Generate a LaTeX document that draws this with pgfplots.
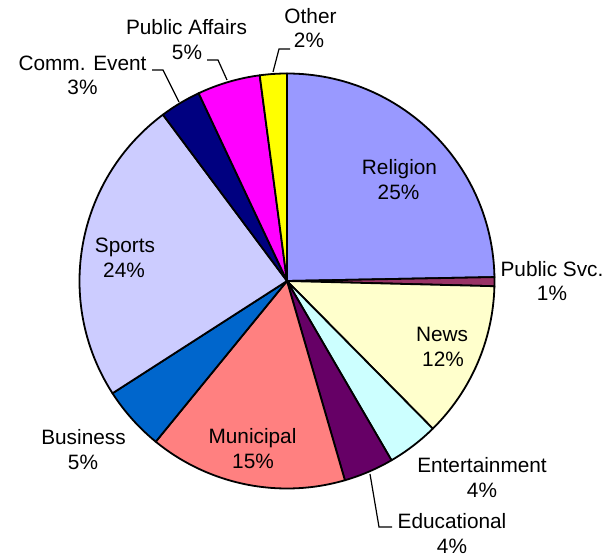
\documentclass[border=0pt]{standalone}
\usepackage{pgfplots}
\pgfplotsset{compat=1.18}
\usepackage{fontspec}
\setmainfont{Liberation Sans}
\definecolor{religion}{HTML}{9999FF}
\definecolor{pubsvc}{HTML}{993366}
\definecolor{news}{HTML}{FFFFCC}
\definecolor{entert}{HTML}{CCFFFF}
\definecolor{educ}{HTML}{660066}
\definecolor{munic}{HTML}{FF8080}
\definecolor{business}{HTML}{0066CC}
\definecolor{sports}{HTML}{CCCCFF}
\definecolor{comm}{HTML}{000080}
\definecolor{pubaff}{HTML}{FF00FF}
\definecolor{other}{HTML}{FFFF00}
\begin{document}
\begin{tikzpicture}
\fontsize{20.8}{25}\selectfont
\begin{axis}[hide axis, scale only axis, width=609pt, height=557pt,
  xmin=0, xmax=609, ymin=0, ymax=557, enlargelimits=false, clip=false]
\path (axis cs:0,0) rectangle (axis cs:609,557);
% slices: percentage / colour, clockwise from 12 o'clock
\foreach \v/\c [remember=\b as \a (initially 90)] in
  {24.7/religion, 0.7/pubsvc, 12.2/news, 4.0/entert, 3.9/educ, 15.4/munic,
   5.0/business, 23.9/sports, 3.2/comm, 4.9/pubaff, 2.1/other} {
  \pgfmathsetmacro\b{\a-3.6*\v}
  \edef\temp{\noexpand\filldraw[fill=\c, draw=black, line width=1.8pt, line join=round]
    (axis cs:287,276) -- ++(\a:207.5pt) arc[start angle=\a, end angle=\b, radius=207.5pt] -- cycle;}
  \temp
}
% leader lines
\addplot[black, line width=1.2pt] coordinates {(152,487) (163,487) (179,455)};
\addplot[black, line width=1.2pt] coordinates {(207,497) (218,497) (227,477)};
\addplot[black, line width=1.2pt] coordinates {(290,508) (279,508) (273,485)};
\addplot[black, line width=1.2pt] coordinates {(370,83) (379,30) (392,30)};
% labels
\begin{scope}[every node/.style={anchor=base, inner sep=0pt, font=\fontsize{20.8}{25}\selectfont}]
\node at (axis cs:399.5,382) {Religion};
\node at (axis cs:398.5,357) {25\%};
\node at (axis cs:552,280) {Public Svc.};
\node at (axis cs:552,256) {1\%};
\node at (axis cs:442,216) {News};
\node at (axis cs:443,191) {12\%};
\node at (axis cs:482,85) {Entertainment};
\node at (axis cs:482,60) {4\%};
\node at (axis cs:452,29) {Educational};
\node at (axis cs:452,4) {4\%};
\node at (axis cs:252.5,114) {Municipal};
\node at (axis cs:253,89) {15\%};
\node at (axis cs:83.5,113) {Business};
\node at (axis cs:83,88) {5\%};
\node at (axis cs:125,304) {Sports};
\node at (axis cs:124,279) {24\%};
\node at (axis cs:82.5,486) {Comm. Event};
\node at (axis cs:82.5,462) {3\%};
\node at (axis cs:186.5,522) {Public Affairs};
\node at (axis cs:187,497) {5\%};
\node at (axis cs:310.5,533) {Other};
\node at (axis cs:309,509) {2\%};
\end{scope}
\end{axis}
\end{tikzpicture}
\end{document}
